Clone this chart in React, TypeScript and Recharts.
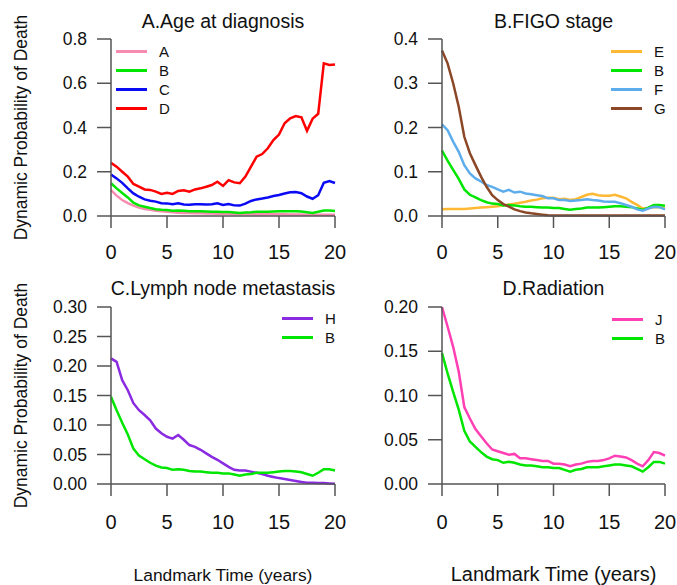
import React from 'react';
import { LineChart, Line, XAxis, YAxis, Legend } from 'recharts';

// landmark times (years)
const years = [
  0, 0.5, 1, 1.5, 2, 2.5, 3, 3.5, 4, 4.5, 5, 5.5, 6, 6.5, 7, 7.5, 8, 8.5, 9, 9.5, 10,
  10.5, 11, 11.5, 12, 12.5, 13, 13.5, 14, 14.5, 15, 15.5, 16, 16.5, 17, 17.5, 18, 18.5, 19, 19.5, 20,
];
const xTicks = [0, 5, 10, 15, 20];

// reference group, shown in every panel
const groupB = [
  0.148, 0.125, 0.104, 0.084, 0.060, 0.048, 0.042, 0.036, 0.031, 0.028, 0.027, 0.024, 0.025, 0.024,
  0.022, 0.021, 0.021, 0.020, 0.019, 0.019, 0.018, 0.018, 0.016, 0.014, 0.016, 0.017, 0.019, 0.019,
  0.019, 0.020, 0.021, 0.022, 0.022, 0.021, 0.020, 0.017, 0.014, 0.019, 0.025, 0.025, 0.023,
];

// A. age at diagnosis
const ageA = [
  0.117, 0.092, 0.072, 0.058, 0.047, 0.038, 0.032, 0.028, 0.024, 0.021, 0.019, 0.017, 0.015, 0.014,
  0.013, 0.012, 0.012, 0.011, 0.011, 0.010, 0.010, 0.010, 0.009, 0.009, 0.009, 0.009, 0.008, 0.008,
  0.008, 0.008, 0.008, 0.008, 0.007, 0.007, 0.007, 0.006, 0.006, 0.006, 0.006, 0.006, 0.006,
];
const ageC = [
  0.188, 0.170, 0.150, 0.125, 0.102, 0.087, 0.075, 0.069, 0.065, 0.058, 0.057, 0.053, 0.057, 0.052,
  0.051, 0.053, 0.053, 0.052, 0.053, 0.057, 0.050, 0.054, 0.048, 0.047, 0.056, 0.068, 0.075, 0.079,
  0.084, 0.090, 0.095, 0.102, 0.107, 0.108, 0.103, 0.088, 0.078, 0.094, 0.150, 0.158, 0.149,
];
const ageD = [
  0.240, 0.223, 0.200, 0.178, 0.145, 0.133, 0.120, 0.118, 0.110, 0.100, 0.105, 0.100, 0.113, 0.116,
  0.110, 0.120, 0.125, 0.132, 0.140, 0.155, 0.136, 0.162, 0.152, 0.148, 0.178, 0.223, 0.268, 0.280,
  0.306, 0.343, 0.368, 0.419, 0.441, 0.452, 0.446, 0.385, 0.440, 0.462, 0.690, 0.683, 0.685,
];

// B. FIGO stage
const figoE = [
  0.015, 0.016, 0.016, 0.016, 0.016, 0.017, 0.018, 0.019, 0.020, 0.021, 0.022, 0.024, 0.026, 0.028,
  0.030, 0.032, 0.035, 0.037, 0.040, 0.041, 0.041, 0.038, 0.039, 0.036, 0.038, 0.043, 0.048, 0.050,
  0.047, 0.046, 0.046, 0.048, 0.044, 0.040, 0.032, 0.025, 0.017, 0.018, 0.020, 0.020, 0.017,
];
const figoF = [
  0.207, 0.194, 0.168, 0.145, 0.115, 0.096, 0.085, 0.078, 0.070, 0.066, 0.060, 0.055, 0.059, 0.053,
  0.055, 0.051, 0.049, 0.047, 0.045, 0.040, 0.040, 0.036, 0.036, 0.034, 0.035, 0.036, 0.038, 0.036,
  0.035, 0.033, 0.032, 0.032, 0.029, 0.025, 0.021, 0.015, 0.012, 0.017, 0.021, 0.020, 0.015,
];
const figoG = [
  0.374, 0.345, 0.300, 0.247, 0.179, 0.142, 0.115, 0.089, 0.066, 0.047, 0.036, 0.027, 0.021, 0.015,
  0.011, 0.008, 0.006, 0.0045, 0.003, 0.0015, 0.001, 0.001, 0.001, 0.001, 0.001, 0.001, 0.001, 0.001,
  0.001, 0.001, 0.001, 0.001, 0.001, 0.001, 0.001, 0.001, 0.001, 0.001, 0.001, 0.001, 0.001,
];

// C. lymph node metastasis
const lymphH = [
  0.213, 0.207, 0.176, 0.159, 0.137, 0.125, 0.117, 0.108, 0.094, 0.086, 0.080, 0.077, 0.083, 0.075,
  0.066, 0.063, 0.058, 0.052, 0.046, 0.041, 0.035, 0.029, 0.024, 0.023, 0.023, 0.021, 0.019, 0.017,
  0.014, 0.012, 0.010, 0.0085, 0.0068, 0.005, 0.0034, 0.002, 0.002, 0.0017, 0.0015, 0.001, 0.0005,
];

// D. radiation
const radJ = [
  0.200, 0.178, 0.155, 0.127, 0.087, 0.074, 0.062, 0.054, 0.046, 0.039, 0.037, 0.035, 0.033, 0.034,
  0.029, 0.029, 0.028, 0.027, 0.026, 0.026, 0.023, 0.023, 0.022, 0.020, 0.022, 0.023, 0.025, 0.026,
  0.026, 0.027, 0.029, 0.032, 0.031, 0.030, 0.027, 0.023, 0.020, 0.027, 0.036, 0.035, 0.032,
];

const FONT = '"Liberation Sans", Arial, Helvetica, sans-serif';
const axisStyle = { stroke: '#555', strokeWidth: 1.5 };

type Series = { key: string; values: number[]; color: string };

function toRows(series: Series[]) {
  return years.map((t, i) => {
    const row: Record<string, number> = { t };
    series.forEach((s) => (row[s.key] = s.values[i]));
    return row;
  });
}

function LegendBox({ payload }: any) {
  return (
    <div style={{ fontFamily: FONT }}>
      {(payload || []).map((p: any) => (
        <div key={p.value} style={{ display: 'flex', alignItems: 'center', height: 19 }}>
          <span style={{ display: 'inline-block', width: 31, height: 3, background: p.color }} />
          <span style={{ marginLeft: 12, fontSize: 15, lineHeight: '19px', color: '#111' }}>{p.value}</span>
        </div>
      ))}
    </div>
  );
}

function YTitle({ viewBox }: any) {
  const cx = viewBox.x + 21;
  const cy = viewBox.y + viewBox.height / 2;
  return (
    <text x={cx} y={cy} dy="0.36em" transform={`rotate(-90, ${cx}, ${cy})`} textAnchor="middle" fontSize={17.5} fill="#111">
      Dynamic Probability of Death
    </text>
  );
}

const xTitle = (size: number) => ({ viewBox }: any) => (
  <text x={viewBox.x + viewBox.width / 2} y={viewBox.y + viewBox.height - 4.5} textAnchor="middle" fontSize={size} fill="#111">
    Landmark Time (years)
  </text>
);

type PanelProps = {
  left: number;
  top: number;
  width: number;
  height: number;
  plotTop: number;
  right: number;
  yWidth: number;
  xHeight: number;
  xTickMargin: number;
  yMax: number;
  yTicks: number[];
  digits: number;
  series: Series[];
  yTitle?: boolean;
  xTitleSize?: number;
  legendLeft: number;
  legendTop: number;
};

function Panel(p: PanelProps) {
  const rows = toRows(p.series);
  const order = p.series.map((s) => s.key);
  return (
    <div style={{ position: 'absolute', left: p.left, top: p.top }}>
      <LineChart width={p.width} height={p.height} data={rows} margin={{ top: p.plotTop, right: p.right, bottom: 0, left: 0 }}>
        <XAxis
          dataKey="t"
          type="number"
          domain={[0, 20]}
          ticks={xTicks}
          interval={0}
          height={p.xHeight}
          tickSize={12}
          tickMargin={p.xTickMargin}
          axisLine={axisStyle}
          tickLine={axisStyle}
          tick={{ fill: '#111', fontSize: 20 }}
          label={p.xTitleSize ? xTitle(p.xTitleSize) : undefined}
        />
        <YAxis
          type="number"
          domain={[0, p.yMax]}
          ticks={p.yTicks}
          interval={0}
          width={p.yWidth}
          tickSize={14}
          tickMargin={10}
          tickFormatter={(v: number) => v.toFixed(p.digits)}
          axisLine={axisStyle}
          tickLine={axisStyle}
          tick={{ fill: '#111', fontSize: 17.5 }}
          label={p.yTitle ? YTitle : undefined}
        />
        <Legend
          content={LegendBox}
          layout="vertical"
          align="center"
          verticalAlign="middle"
          itemSorter={(item: any) => order.indexOf(String(item.dataKey))}
          wrapperStyle={{ left: p.legendLeft, top: p.legendTop, width: 'auto' }}
        />
        {p.series.map((s) => (
          <Line
            key={s.key}
            dataKey={s.key}
            name={s.key}
            type="linear"
            stroke={s.color}
            strokeWidth={2.5}
            dot={false}
            activeDot={false}
            isAnimationActive={false}
          />
        ))}
      </LineChart>
    </div>
  );
}

export default function App() {
  return (
    <div style={{ position: 'absolute', left: 0, top: 0, width: 677, height: 585, background: '#fff', fontFamily: FONT, overflow: 'hidden' }}>
      <Panel
        left={0} top={0} width={350} height={270} plotTop={39} right={15} yWidth={111} xHeight={54} xTickMargin={17}
        yMax={0.8} yTicks={[0, 0.2, 0.4, 0.6, 0.8]} digits={1} yTitle
        legendLeft={116} legendTop={41.5}
        series={[
          { key: 'A', values: ageA, color: '#F78CB0' },
          { key: 'B', values: groupB, color: '#00E600' },
          { key: 'C', values: ageC, color: '#0A0AF5' },
          { key: 'D', values: ageD, color: '#FF0000' },
        ]}
      />
      <Panel
        left={350} top={0} width={327} height={270} plotTop={39} right={12} yWidth={92} xHeight={54} xTickMargin={17}
        yMax={0.4} yTicks={[0, 0.1, 0.2, 0.3, 0.4]} digits={1}
        legendLeft={261} legendTop={41.5}
        series={[
          { key: 'E', values: figoE, color: '#FFB833' },
          { key: 'B', values: groupB, color: '#00E600' },
          { key: 'F', values: figoF, color: '#5DADEC' },
          { key: 'G', values: figoG, color: '#8B4726' },
        ]}
      />
      <Panel
        left={0} top={270} width={350} height={315} plotTop={37} right={15} yWidth={111} xHeight={101} xTickMargin={19}
        yMax={0.3} yTicks={[0, 0.05, 0.1, 0.15, 0.2, 0.25, 0.3]} digits={2} yTitle xTitleSize={17.4}
        legendLeft={282} legendTop={39}
        series={[
          { key: 'H', values: lymphH, color: '#8A2BE2' },
          { key: 'B', values: groupB, color: '#00E600' },
        ]}
      />
      <Panel
        left={350} top={270} width={327} height={315} plotTop={37} right={12} yWidth={92} xHeight={101} xTickMargin={19}
        yMax={0.2} yTicks={[0, 0.05, 0.1, 0.15, 0.2]} digits={2} xTitleSize={20}
        legendLeft={262} legendTop={39.5}
        series={[
          { key: 'J', values: radJ, color: '#FF40B4' },
          { key: 'B', values: groupB, color: '#00E600' },
        ]}
      />
      <svg width={677} height={585} style={{ position: 'absolute', left: 0, top: 0, pointerEvents: 'none' }}>
        <g fontSize={19.5} fill="#111" textAnchor="middle">
          <text x={223} y={27.5}>A.Age at diagnosis</text>
          <text x={553.5} y={27.5}>B.FIGO stage</text>
          <text x={223} y={295}>C.Lymph node metastasis</text>
          <text x={553.5} y={294.5}>D.Radiation</text>
        </g>
      </svg>
    </div>
  );
}
